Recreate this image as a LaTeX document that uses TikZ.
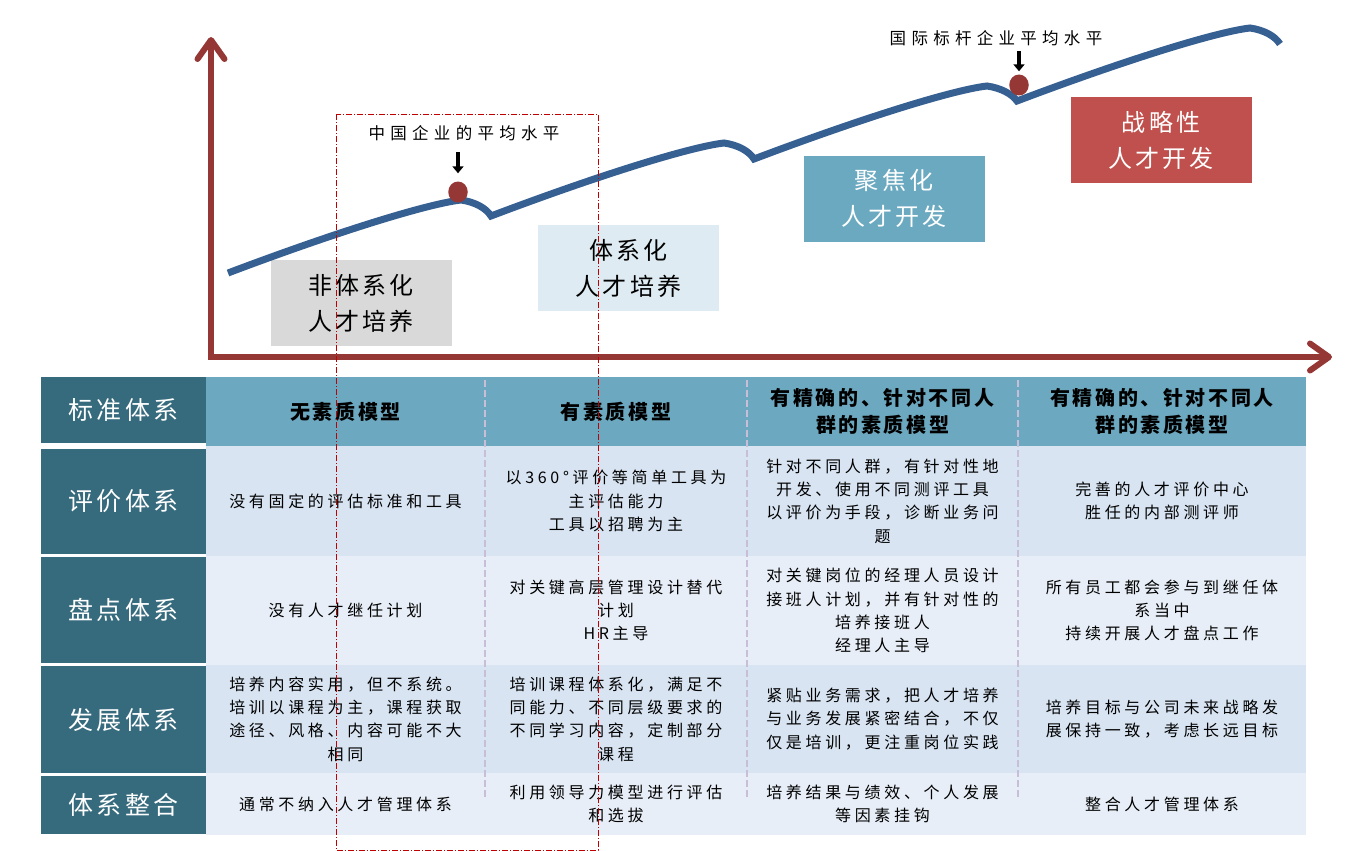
\documentclass[tikz,border=0pt]{standalone}
\usepackage{fontspec}
\setmainfont{Noto Sans CJK SC}
\newfontfamily\bodyfont[LetterSpace=23]{Noto Sans CJK SC}
\newfontfamily\headfont[LetterSpace=13]{Noto Sans CJK SC}
\newfontfamily\notefont[LetterSpace=32]{Noto Sans CJK SC}
\usetikzlibrary{arrows.meta,shapes.geometric}

\definecolor{axisred}{RGB}{149,55,53}
\definecolor{curveblue}{RGB}{55,96,146}
\definecolor{headdark}{RGB}{54,106,125}
\definecolor{headband}{RGB}{108,168,191}
\definecolor{rowdark}{RGB}{216,228,242}
\definecolor{rowlight}{RGB}{231,238,247}
\definecolor{boxgray}{RGB}{217,217,217}
\definecolor{boxpale}{RGB}{222,235,242}
\definecolor{boxteal}{RGB}{107,169,192}
\definecolor{boxred}{RGB}{192,80,77}
\definecolor{sepline}{RGB}{200,190,216}
\definecolor{markred}{RGB}{192,0,0}

\begin{document}
\begin{tikzpicture}[
  x=1pt, y=-1pt,
  stage/.style={minimum width=181pt, minimum height=86pt, inner sep=0pt, align=center, font=\fontsize{24}{36}\headfont},
  lefthead/.style={fill=headdark, text=white, minimum width=165pt, inner sep=0pt, font=\fontsize{25}{30}\headfont},
  cell/.style={inner sep=0pt, align=center, font=\fontsize{16}{23.3}\bodyfont},
  headcell/.style={cell, fill=headband, minimum height=69pt, font=\fontsize{20}{27}\headfont\bfseries},
  c1/.style={minimum width=279pt},
  c2/.style={minimum width=262pt},
  c3/.style={minimum width=271pt},
  c4/.style={minimum width=288pt},
  dot/.style={ellipse, fill=axisred, minimum width=19.5pt, minimum height=21pt, inner sep=0pt},
  note/.style={inner sep=0pt, font=\fontsize{16.5}{20}\notefont},
  pointer/.style={line width=3.5pt, -{Triangle[length=7pt,width=11pt]}},
  axis/.style={axisred, line width=6pt, {Straight Barb[length=19pt,width=27pt,round]}-{Straight Barb[length=19pt,width=27pt,round]}},
  curve/.style={curveblue, line width=7pt},
  sep/.style={sepline, line width=1.5pt, dash pattern=on 7pt off 3pt},
  markbox/.style={markred, line width=0.8pt, dash pattern=on 6pt off 2pt on 1pt off 2pt}
]
\useasboundingbox (0,0) rectangle (1350,851);

% left column
\node[lefthead, minimum height=66pt] (l1) at (123.5,410) {标准体系};
\node[lefthead, minimum height=105pt] (l2) at (123.5,501.5) {评价体系};
\node[lefthead, minimum height=106pt] (l3) at (123.5,610) {盘点体系};
\node[lefthead, minimum height=107pt] (l4) at (123.5,719.5) {发展体系};
\node[lefthead, minimum height=58pt] (l5) at (123.5,805) {体系整合};

% header row
\node[headcell, c1] (h1) at (345.5,411.5) {无素质模型};
\node[headcell, c2] (h2) at (616,411.5) {有素质模型};
\node[headcell, c3] (h3) at (882.5,411.5) {有精确的、针对不同人\\群的素质模型};
\node[headcell, c4] (h4) at (1162,411.5) {有精确的、针对不同人\\群的素质模型};

% evaluation
\node[cell, c1, fill=rowdark, minimum height=110pt] (e1) at (345.5,501) {没有固定的评估标准和工具};
\node[cell, c2, fill=rowdark, minimum height=110pt] (e2) at (616,501) {以360°评价等简单工具为\\主评估能力\\工具以招聘为主};
\node[cell, c3, fill=rowdark, minimum height=110pt] (e3) at (882.5,501) {针对不同人群，有针对性地\\开发、使用不同测评工具\\以评价为手段，诊断业务问\\题};
\node[cell, c4, fill=rowdark, minimum height=110pt] (e4) at (1162,501) {完善的人才评价中心\\胜任的内部测评师};

% inventory
\node[cell, c1, fill=rowlight, minimum height=109pt] (p1) at (345.5,610.5) {没有人才继任计划};
\node[cell, c2, fill=rowlight, minimum height=109pt] (p2) at (616,610.5) {对关键高层管理设计替代\\计划\\HR主导};
\node[cell, c3, fill=rowlight, minimum height=109pt] (p3) at (882.5,610.5) {对关键岗位的经理人员设计\\接班人计划，并有针对性的\\培养接班人\\经理人主导};
\node[cell, c4, fill=rowlight, minimum height=109pt] (p4) at (1162,610.5) {所有员工都会参与到继任体\\系当中\\持续开展人才盘点工作};

% development
\node[cell, c1, fill=rowdark, minimum height=108pt] (d1) at (345.5,719) {培养内容实用，但不系统。\\培训以课程为主，课程获取\\途径、风格、内容可能不大\\相同};
\node[cell, c2, fill=rowdark, minimum height=108pt] (d2) at (616,719) {培训课程体系化，满足不\\同能力、不同层级要求的\\不同学习内容，定制部分\\课程};
\node[cell, c3, fill=rowdark, minimum height=108pt] (d3) at (882.5,719) {紧贴业务需求，把人才培养\\与业务发展紧密结合，不仅\\仅是培训，更注重岗位实践};
\node[cell, c4, fill=rowdark, minimum height=108pt] (d4) at (1162,719) {培养目标与公司未来战略发\\展保持一致，考虑长远目标};

% integration
\node[cell, c1, fill=rowlight, minimum height=62pt] (i1) at (345.5,804) {通常不纳入人才管理体系};
\node[cell, c2, fill=rowlight, minimum height=62pt] (i2) at (616,804) {利用领导力模型进行评估\\和选拔};
\node[cell, c3, fill=rowlight, minimum height=62pt] (i3) at (882.5,804) {培养结果与绩效、个人发展\\等因素挂钩};
\node[cell, c4, fill=rowlight, minimum height=62pt] (i4) at (1162,804) {整合人才管理体系};

\draw[sep] (485,380) -- (485,797);
\draw[sep] (747,380) -- (747,797);
\draw[sep] (1018,380) -- (1018,797);

% stages
\node[stage, fill=boxgray] (nonsys) at (361,303) {非体系化\\人才培养};
\node[stage, fill=boxpale] (sys) at (628.5,268) {体系化\\人才培养};
\node[stage, fill=boxteal, text=white] (focus) at (894,198.5) {聚焦化\\人才开发};
\node[stage, fill=boxred, text=white] (strat) at (1161,140) {战略性\\人才开发};

% axes
\coordinate (origin) at (211,357);
\coordinate (ytip) at (211,37);
\coordinate (xtip) at (1332,357);
\draw[axis] (ytip) -- (origin) -- (xtip);

% level curve
\draw[curve] (228,273) .. controls (331,234) and (426,204) .. (461,200)
  .. controls (475,202) and (486,208) .. (491,216)
  .. controls (594,177) and (689,147) .. (724,143)
  .. controls (738,145) and (749,151) .. (754,159)
  .. controls (857,120) and (952,90) .. (987,86)
  .. controls (1001,88) and (1012,94) .. (1017,101)
  .. controls (1120,62) and (1215,32) .. (1250,28)
  .. controls (1264,30) and (1275,36) .. (1280,44);

% marks
\node[dot] (cndot) at (458,192) {};
\node[dot] (topdot) at (1019,85) {};
\node[note] (cnlabel) at (464,133) {中国企业的平均水平};
\node[note] (toplabel) at (996,38) {国际标杆企业平均水平};
\coordinate (cnarr) at (458,152);
\coordinate (toparr) at (1019,51);
\draw[pointer, shorten >=8pt] (cnarr) -- (cndot);
\draw[pointer, shorten >=3pt] (toparr) -- (topdot);

\draw[markbox] (336,114) rectangle (598,850);
\end{tikzpicture}
\end{document}
